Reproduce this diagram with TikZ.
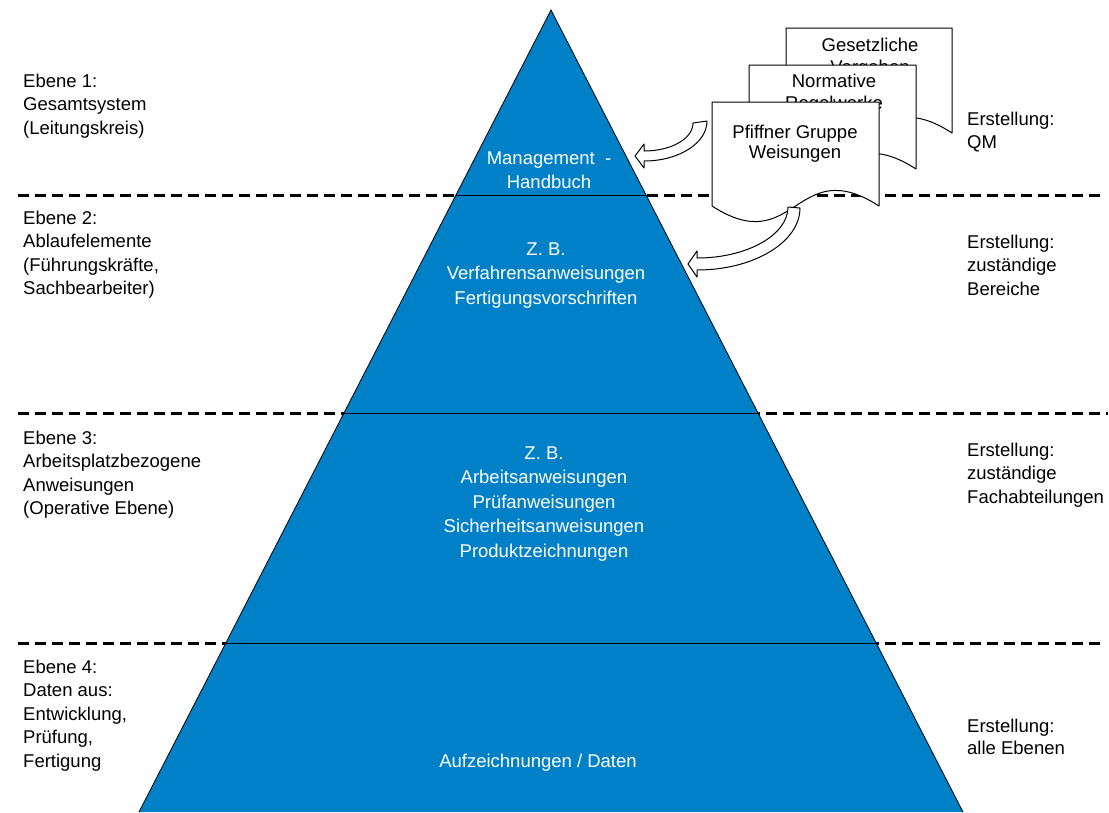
\documentclass[tikz,border=0pt]{standalone}
\usepackage{fontspec}
\setmainfont{Liberation Sans}
\definecolor{pyr}{HTML}{0080C6}
\newcommand{\mylines}[2]{\begin{tabular}[t]{@{}#1@{}}#2\end{tabular}}
\begin{document}
\begin{tikzpicture}[x=1pt,y=-1pt,
  lbl/.style={inner sep=0pt, font=\fontsize{18.5}{23.5}\selectfont, anchor=base west},
  ptxt/.style={inner sep=0pt, font=\fontsize{18.5}{24.5}\selectfont, text=white, anchor=base},
  dtxt/.style={inner sep=0pt, font=\fontsize{18.5}{22}\selectfont, anchor=base},
  sepline/.style={line width=3pt, dash pattern=on 11pt off 6pt},
  docbox/.style={draw=black, fill=white, line width=1pt, line join=round},
  barrow/.style={draw=black, fill=white, line width=1pt, line join=round}]
\useasboundingbox (0,0) rectangle (1109,812);

% dashed level separators
\draw[sepline] (18,195) -- (1100,195);
\draw[sepline] (18,413) -- (1108,413);
\draw[sepline] (18,643) -- (1100,643);

% pyramid
\fill[pyr] (551,10) -- (963,812) -- (139,812) -- cycle;
\draw[line width=0.8pt] (139,812) -- (551,10) -- (963,812);
\draw[line width=1pt] (455.9,195) -- (646.1,195);
\draw[line width=1pt] (343.9,413) -- (758.1,413);
\draw[line width=1pt] (226,643) -- (876,643);

% pyramid texts
\node[ptxt] (t1) at (549,164) {\mylines{c}{Management\ \ -\\Handbuch}};
\node[ptxt] (t2) at (546,255) {\mylines{c}{Z. B.\\Verfahrensanweisungen\\Fertigungsvorschriften}};
\node[ptxt] (t3) at (544,459) {\mylines{c}{Z. B.\\Arbeitsanweisungen\\Prüfanweisungen\\Sicherheitsanweisungen\\Produktzeichnungen}};
\node[ptxt] (t4) at (538,767) {Aufzeichnungen / Daten};

% left labels
\node[lbl] (l1) at (23,87) {\mylines{l}{Ebene 1:\\Gesamtsystem\\(Leitungskreis)}};
\node[lbl] (l2) at (23,224) {\mylines{l}{Ebene 2:\\Ablaufelemente\\(Führungskräfte,\\Sachbearbeiter)}};
\node[lbl] (l3) at (23,444) {\mylines{l}{Ebene 3:\\Arbeitsplatzbezogene\\Anweisungen\\(Operative Ebene)}};
\node[lbl] (l4) at (23,673) {\mylines{l}{Ebene 4:\\Daten aus:\\Entwicklung,\\Prüfung,\\Fertigung}};

% right labels
\node[lbl] (r1) at (967,125) {\mylines{l}{Erstellung:\\QM}};
\node[lbl] (r2) at (967,248) {\mylines{l}{Erstellung:\\zuständige\\Bereiche}};
\node[lbl] (r3) at (967,456) {\mylines{l}{Erstellung:\\zuständige\\Fachabteilungen}};
\node[lbl,font=\fontsize{18.5}{22}\selectfont] (r4) at (967,732) {\mylines{l}{Erstellung:\\alle Ebenen}};

% document stack (back to front)
\draw[docbox] (786,28) -- (952,28) -- (952,133) .. controls (869,79) and (869,187) .. (786,133) -- cycle;
\node[dtxt] (d1) at (870,51) {\mylines{c}{Gesetzliche\\Vorgaben}};
\draw[docbox] (749,65) -- (916,65) -- (916,169) .. controls (832.5,115) and (832.5,223) .. (749,169) -- cycle;
\node[dtxt] (d2) at (834,87) {\mylines{c}{Normative\\Regelwerke}};
\draw[docbox] (712,102) -- (879,102) -- (879,206) .. controls (795.5,152) and (795.5,260) .. (712,206) -- cycle;
\node[dtxt,font=\fontsize{18.5}{20.5}\selectfont] (d3) at (795,138) {\mylines{c}{Pfiffner Gruppe\\Weisungen}};

% curved block arrows
\draw[barrow] (707,121) .. controls (707,143) and (679,161) .. (644,161)
  -- (644,168) -- (635,156) -- (644,144) -- (644,151)
  .. controls (671.5,151) and (693,138.5) .. (693,123) -- cycle;
\draw[barrow] (800,208) .. controls (800,242) and (754,270) .. (697,270)
  -- (697,277) -- (688,264) -- (697,251) -- (697,258)
  .. controls (747,258) and (788,235) .. (788,207) -- cycle;
\end{tikzpicture}
\end{document}
